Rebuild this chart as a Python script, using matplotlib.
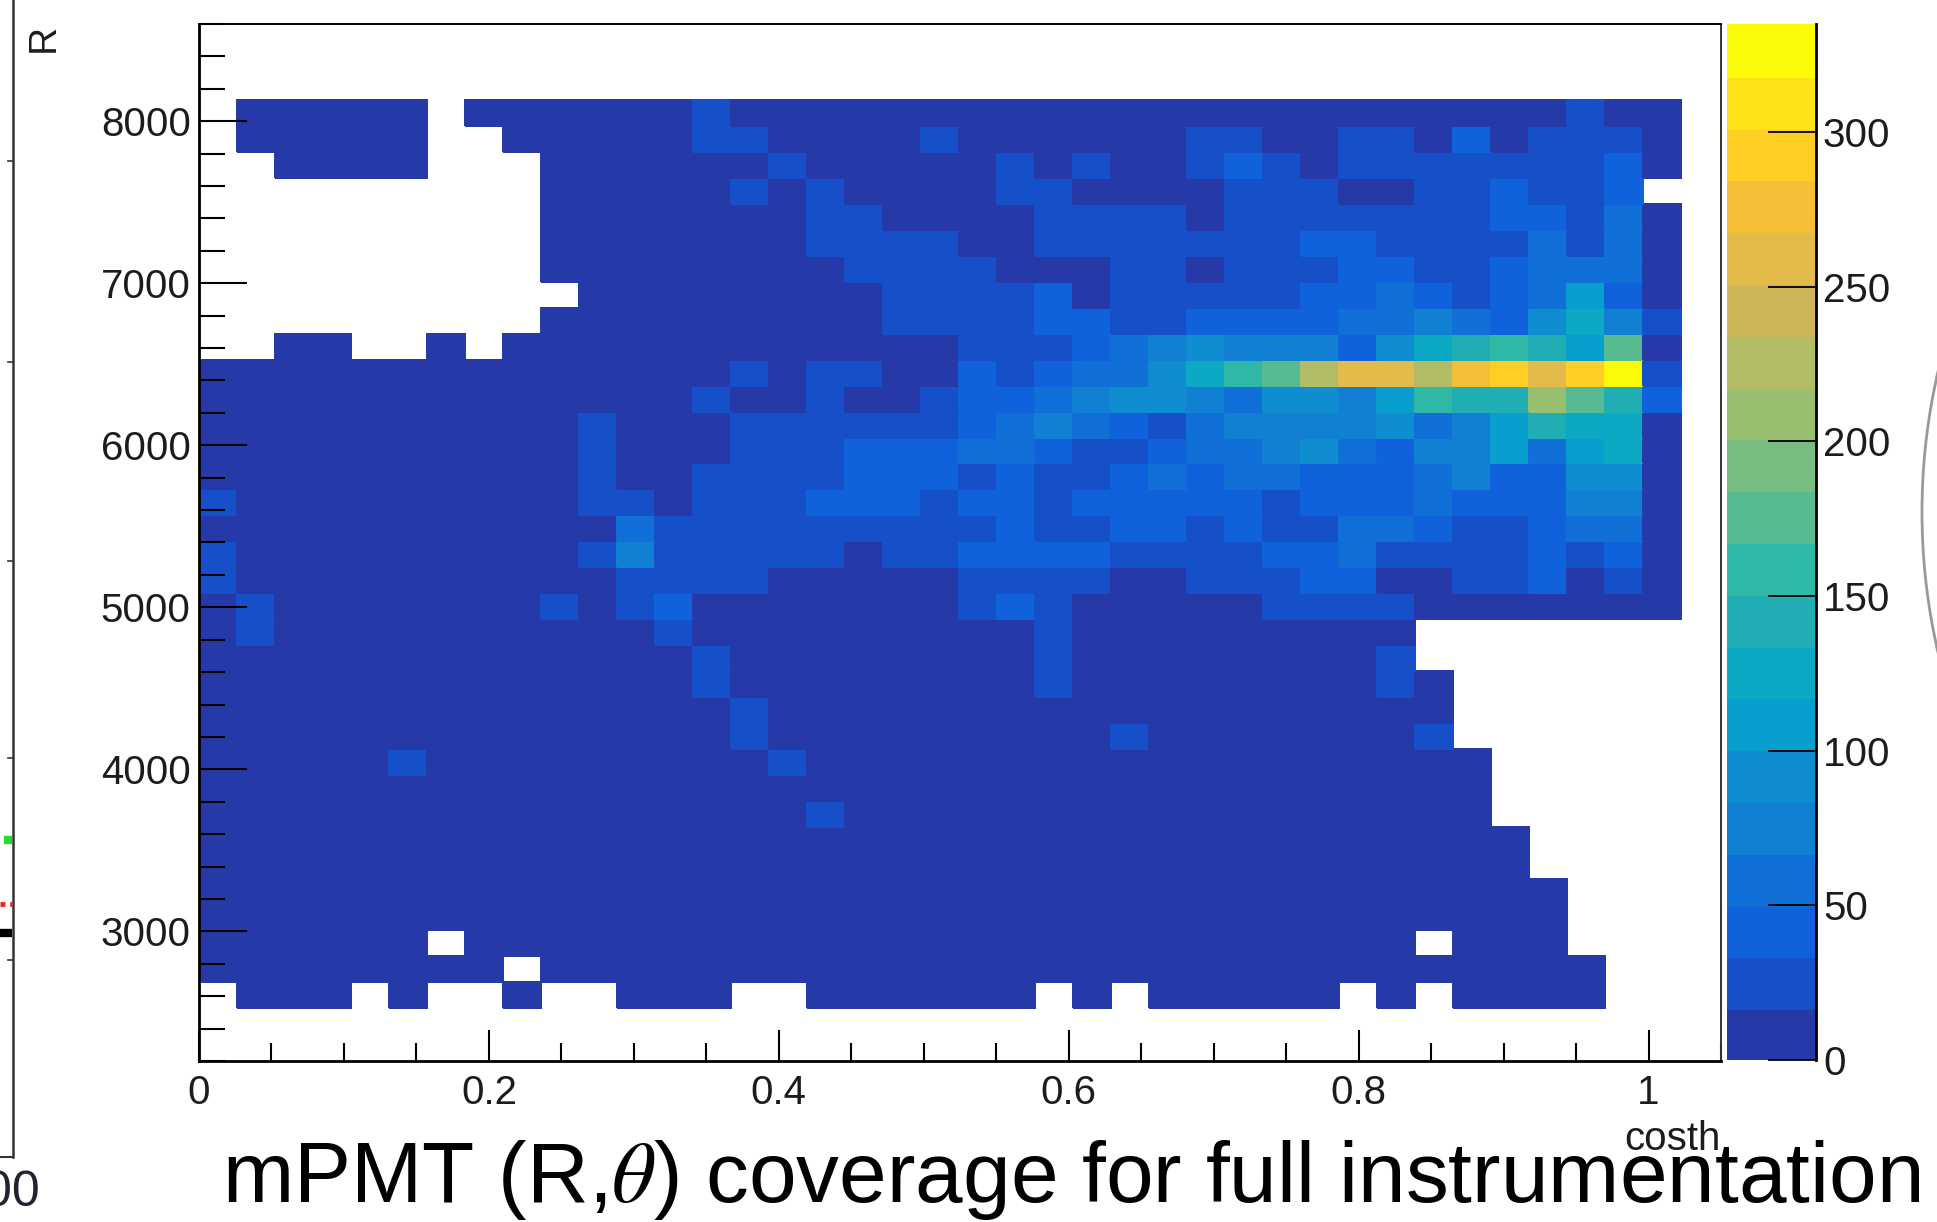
import numpy as np
import matplotlib
matplotlib.use("Agg")
import matplotlib.pyplot as plt
from matplotlib.colors import ListedColormap, BoundaryNorm
from matplotlib.patches import Circle
from matplotlib.ticker import MultipleLocator

plt.rcParams['font.family'] = ['Liberation Sans', 'DejaVu Sans']
plt.rcParams['mathtext.fontset'] = 'stix'

_ = float('nan')

# counts per (costh, R) bin; first row is the highest R bin, blank = empty bin
counts = [
 [_,8,8,8,8,8,_,8,8,8, 8,8,8,25,8,8,8,8,8,8, 8,8,8,8,8,8,8,8,8,8, 8,8,8,8,8,8,25,8,8],
 [_,8,8,8,8,8,_,_,8,8, 8,8,8,25,25,8,8,8,8,25, 8,8,8,8,8,8,25,25,8,8, 25,25,8,42,8,25,25,25,8],
 [_,_,8,8,8,8,_,_,_,8, 8,8,8,8,8,25,8,8,8,8, 8,25,8,25,8,8,25,42,25,8, 25,25,25,25,25,25,25,42,8],
 [_,_,_,_,_,_,_,_,_,8, 8,8,8,8,25,8,25,8,8,8, 8,25,25,8,8,8,8,25,25,25, 8,8,25,25,42,25,25,42,_],
 [_,_,_,_,_,_,_,_,_,8, 8,8,8,8,8,8,25,25,8,8, 8,8,25,25,25,25,8,25,25,25, 25,25,25,25,42,42,25,59,8],
 [_,_,_,_,_,_,_,_,_,8, 8,8,8,8,8,8,25,25,25,25, 8,8,25,25,25,25,25,25,25,42, 42,25,25,25,25,59,25,59,8],
 [_,_,_,_,_,_,_,_,_,8, 8,8,8,8,8,8,8,25,25,25, 25,8,8,8,25,25,8,25,25,25, 42,42,25,25,42,59,59,59,8],
 [_,_,_,_,_,_,_,_,_,_, 8,8,8,8,8,8,8,8,25,25, 25,25,42,8,25,25,25,25,25,42, 42,59,42,25,42,59,109,42,8],
 [_,_,_,_,_,_,_,_,_,8, 8,8,8,8,8,8,8,8,25,25, 25,25,42,42,25,25,42,42,42,42, 59,59,75,59,42,92,126,75,25],
 [_,_,8,8,_,_,8,_,8,8, 8,8,8,8,8,8,8,8,8,8, 25,25,25,42,59,75,92,75,75,75, 42,92,126,142,159,142,109,176,8],
 [8,8,8,8,8,8,8,8,8,8, 8,8,8,8,25,8,25,25,8,8, 42,25,42,59,59,92,126,159,176,226, 260,260,226,276,293,260,293,327,25],
 [8,8,8,8,8,8,8,8,8,8, 8,8,8,25,8,8,25,8,8,25, 42,42,59,75,92,92,75,59,92,92, 75,109,159,142,142,209,176,142,42],
 [8,8,8,8,8,8,8,8,8,8, 25,8,8,8,25,25,25,25,25,25, 42,59,75,59,42,25,59,75,75,75, 75,92,59,75,109,142,126,126,8],
 [8,8,8,8,8,8,8,8,8,8, 25,8,8,8,25,25,25,42,42,42, 59,59,42,25,25,42,59,59,75,92, 59,42,75,75,109,59,109,126,8],
 [8,8,8,8,8,8,8,8,8,8, 25,8,8,25,25,25,25,42,42,42, 25,42,25,25,42,59,42,59,59,42, 42,42,59,75,42,42,92,92,8],
 [25,8,8,8,8,8,8,8,8,8, 25,25,8,25,25,25,42,42,42,25, 42,42,25,42,42,42,42,42,25,42, 42,42,59,42,42,42,75,75,8],
 [8,8,8,8,8,8,8,8,8,8, 8,59,25,25,25,25,25,25,25,25, 25,42,25,25,42,42,25,42,25,25, 59,59,42,25,25,42,59,59,8],
 [25,8,8,8,8,8,8,8,8,8, 25,75,25,25,25,25,25,8,25,25, 42,42,42,42,25,25,25,25,42,42, 59,25,25,25,25,42,25,42,8],
 [25,8,8,8,8,8,8,8,8,8, 8,25,25,25,25,8,8,8,8,8, 25,25,25,25,8,8,25,25,25,42, 42,8,8,25,25,42,8,25,8],
 [8,25,8,8,8,8,8,8,8,25, 8,25,42,8,8,8,8,8,8,8, 25,42,25,8,8,8,8,8,25,25, 25,25,8,8,8,8,8,8,8],
 [8,25,8,8,8,8,8,8,8,8, 8,8,25,8,8,8,8,8,8,8, 8,8,25,8,8,8,8,8,8,8, 8,8,_,_,_,_,_,_,_],
 [8,8,8,8,8,8,8,8,8,8, 8,8,8,25,8,8,8,8,8,8, 8,8,25,8,8,8,8,8,8,8, 8,25,_,_,_,_,_,_,_],
 [8,8,8,8,8,8,8,8,8,8, 8,8,8,25,8,8,8,8,8,8, 8,8,25,8,8,8,8,8,8,8, 8,25,8,_,_,_,_,_,_],
 [8,8,8,8,8,8,8,8,8,8, 8,8,8,8,25,8,8,8,8,8, 8,8,8,8,8,8,8,8,8,8, 8,8,8,_,_,_,_,_,_],
 [8,8,8,8,8,8,8,8,8,8, 8,8,8,8,25,8,8,8,8,8, 8,8,8,8,25,8,8,8,8,8, 8,8,25,_,_,_,_,_,_],
 [8,8,8,8,8,25,8,8,8,8, 8,8,8,8,8,25,8,8,8,8, 8,8,8,8,8,8,8,8,8,8, 8,8,8,8,_,_,_,_,_],
 [8,8,8,8,8,8,8,8,8,8, 8,8,8,8,8,8,8,8,8,8, 8,8,8,8,8,8,8,8,8,8, 8,8,8,8,_,_,_,_,_],
 [8,8,8,8,8,8,8,8,8,8, 8,8,8,8,8,8,25,8,8,8, 8,8,8,8,8,8,8,8,8,8, 8,8,8,8,_,_,_,_,_],
 [8,8,8,8,8,8,8,8,8,8, 8,8,8,8,8,8,8,8,8,8, 8,8,8,8,8,8,8,8,8,8, 8,8,8,8,8,_,_,_,_],
 [8,8,8,8,8,8,8,8,8,8, 8,8,8,8,8,8,8,8,8,8, 8,8,8,8,8,8,8,8,8,8, 8,8,8,8,8,_,_,_,_],
 [8,8,8,8,8,8,8,8,8,8, 8,8,8,8,8,8,8,8,8,8, 8,8,8,8,8,8,8,8,8,8, 8,8,8,8,8,8,_,_,_],
 [8,8,8,8,8,8,8,8,8,8, 8,8,8,8,8,8,8,8,8,8, 8,8,8,8,8,8,8,8,8,8, 8,8,8,8,8,8,_,_,_],
 [8,8,8,8,8,8,_,8,8,8, 8,8,8,8,8,8,8,8,8,8, 8,8,8,8,8,8,8,8,8,8, 8,8,_,8,8,8,_,_,_],
 [8,8,8,8,8,8,8,8,_,8, 8,8,8,8,8,8,8,8,8,8, 8,8,8,8,8,8,8,8,8,8, 8,8,8,8,8,8,8,_,_],
 [_,8,8,8,_,8,_,_,8,_, _,8,8,8,_,_,8,8,8,8, 8,8,_,8,_,8,8,8,8,8, _,8,_,8,8,8,8,_,_],
]

x_bins = 40          # costh bins over bin_x_range
bin_x_range = (0, 1.0485)
x_range = (0, 1.05)
y_bins = 40          # R bins over bin_y_range
bin_y_range = (2205, 8610)
y_range = (2200, 8600)
top_filled_bin = 36  # index of the highest filled R bin
z_max = 335
band_colors = ['#253AA8', '#1650C8', '#0F62DC', '#1070D8', '#1280D2',
               '#0E8ED0', '#089ECE', '#0CA8C4', '#20AEB4', '#2FB8A6',
               '#58BA90', '#78BC80', '#98BE70', '#B2BC64', '#CDB558',
               '#E2BB4A', '#F4BE36', '#FFCE24', '#FCE318', '#FBFB08']
x_major = [0, 0.2, 0.4, 0.6, 0.8, 1]
x_labels = ['0', '0.2', '0.4', '0.6', '0.8', '1']
y_major = [3000, 4000, 5000, 6000, 7000, 8000]
z_ticks = [0, 50, 100, 150, 200, 250, 300]
title_main = 'mPMT (R,$\\theta$) coverage for full instrumentation'

W, H = 1937, 1222
fig = plt.figure(figsize=(W / 100, H / 100), dpi=100, facecolor='white')


def box(l, t, r, b):
    return [l / W, 1 - b / H, (r - l) / W, (b - t) / H]


px = 0.72  # points per pixel at 100 dpi
text_col = '#1c1c1c'

ax = fig.add_axes(box(199, 24, 1721, 1061))
Z = np.array(counts, dtype=float)[::-1]
n_rows, n_cols = Z.shape
x_edges = np.linspace(bin_x_range[0], bin_x_range[1], x_bins + 1)[:n_cols + 1]
y_all = np.linspace(bin_y_range[0], bin_y_range[1], y_bins + 1)
y_edges = y_all[top_filled_bin + 1 - n_rows:top_filled_bin + 2]
levels = np.linspace(0, z_max, len(band_colors) + 1)
cmap = ListedColormap(band_colors)
cmap.set_bad((1, 1, 1, 0))
norm = BoundaryNorm(levels, cmap.N)
mesh = ax.pcolormesh(x_edges, y_edges, np.ma.masked_invalid(Z), cmap=cmap,
                     norm=norm, edgecolors='face', linewidth=0.2)
ax.set_xlim(*x_range)
ax.set_ylim(*y_range)
ax.set_xticks(x_major)
ax.set_xticklabels(x_labels)
ax.set_yticks(y_major)
ax.xaxis.set_minor_locator(MultipleLocator(0.05))
ax.yaxis.set_minor_locator(MultipleLocator(200))
ax.tick_params(axis='x', which='major', direction='in', length=31 * px, width=1.5,
               labelsize=29, pad=9, labelcolor=text_col)
ax.tick_params(axis='x', which='minor', direction='in', length=18 * px, width=1.5)
ax.tick_params(axis='y', which='major', direction='in', length=48 * px, width=1.5,
               labelsize=29, pad=6, labelcolor=text_col)
ax.tick_params(axis='y', which='minor', direction='in', length=26 * px, width=1.5)
for s in ax.spines.values():
    s.set_linewidth(1.4)
ax.spines['left'].set_linewidth(2)
ax.spines['bottom'].set_linewidth(2)
ax.spines['right'].set_color('#333333')

cax = fig.add_axes(box(1727, 24, 1816, 1060))
cb = fig.colorbar(mesh, cax=cax, ticks=z_ticks, spacing='proportional')
cb.ax.set_ylim(0, z_max)
cb.ax.minorticks_off()
cb.ax.tick_params(direction='in', length=48 * px, width=1.3, labelsize=29, pad=5,
                  labelcolor=text_col)
cb.outline.set_visible(False)
cb.ax.axvline(1, color='black', lw=2, clip_on=False)
cb.solids.set_edgecolor('face')

# pieces of the neighbouring panels and the slide text, in pixel coordinates
ov = fig.add_axes([0, 0, 1, 1], zorder=5)
ov.set_xlim(0, W)
ov.set_ylim(H, 0)
ov.axis('off')
ov.patch.set_alpha(0)

ov.plot([12.5, 12.5], [0, 1157], color='#333333', lw=1.8)
ov.plot([0, 12.5], [1157, 1157], color='#333333', lw=1.5)
for yy in [161, 362, 561, 758, 960]:
    ov.plot([8, 12.5], [yy, yy], color='#333333', lw=1.2)
ov.plot([4, 12], [840, 840], color='#22dd33', lw=6, solid_capstyle='butt')
ov.plot([0, 12], [904, 904], color='#ee2222', lw=3.5, ls=(0, (1, 1)))
ov.plot([0, 12], [933, 933], color='black', lw=6, solid_capstyle='butt')
ov.add_patch(Circle((2546, 512), 624, fill=False, ec='#999999', lw=2))

ov.text(40, 1193, '00', ha='right', va='center', fontsize=36, color='#222233')
ov.text(44, 38, 'R', rotation=90, ha='center', va='center', fontsize=28, color=text_col)
ov.text(1721, 1139, 'costh', ha='right', va='center', fontsize=29, color=text_col)
ov.text(222, 1180, title_main, ha='left', va='center', fontsize=61.7, color='black')

fig.savefig('out.png', dpi=100)
